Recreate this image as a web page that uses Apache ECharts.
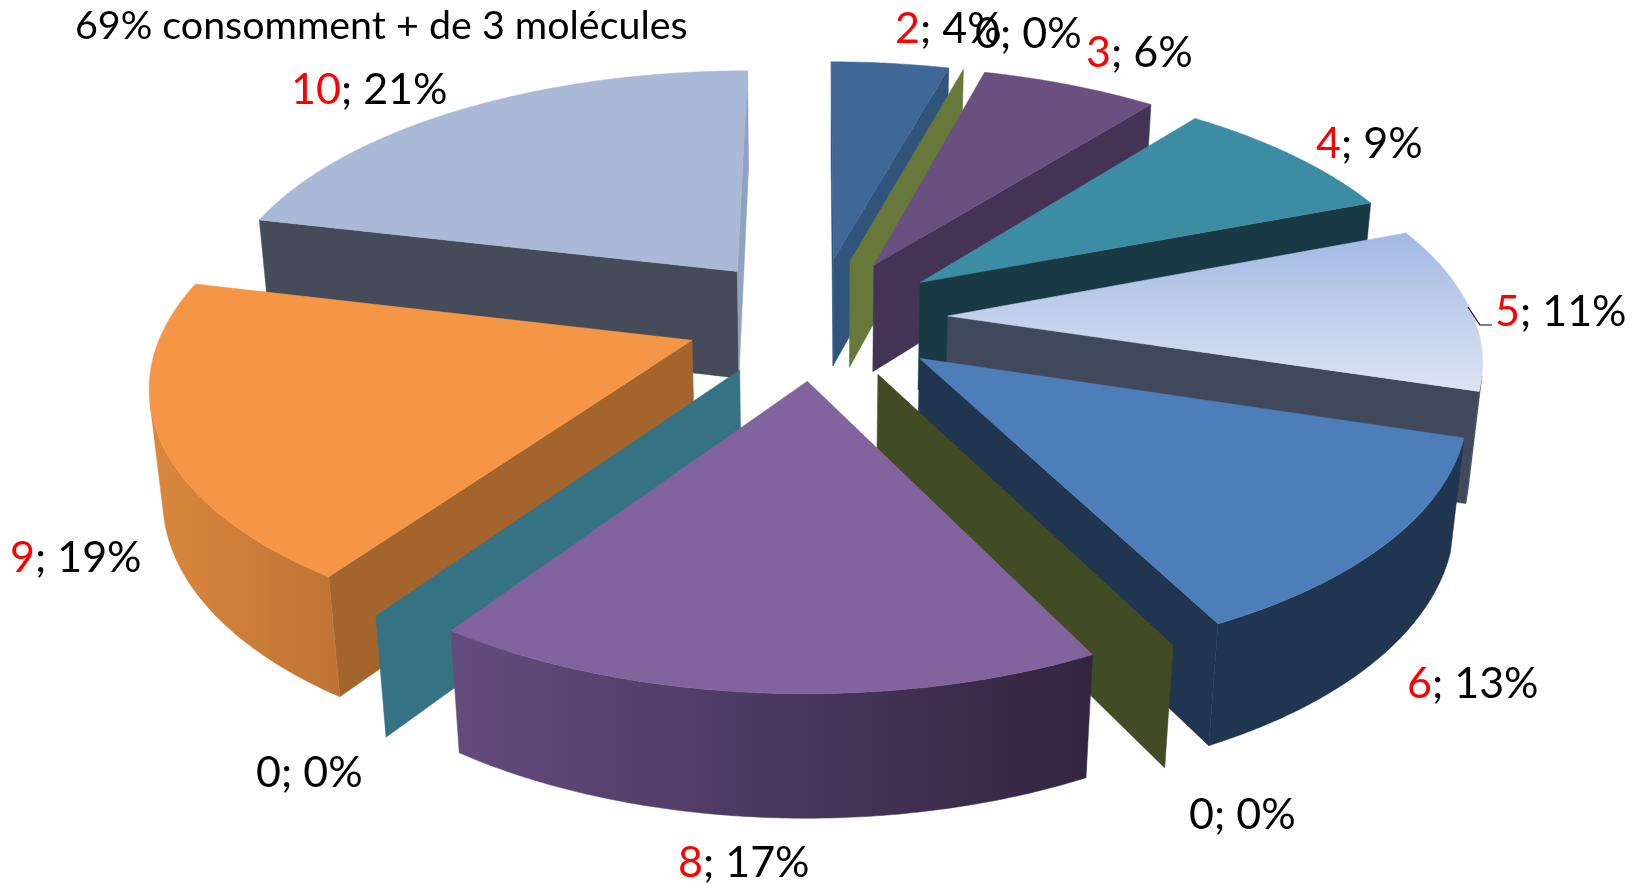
<!DOCTYPE html>
<html>
<head>
<meta charset="utf-8">
<title>69% consomment + de 3 molécules</title>
<script src="https://cdn.jsdelivr.net/npm/echarts@6/dist/echarts.min.js"></script>
<style>
  html, body { margin: 0; padding: 0; background: #fff; }
  #chart { width: 1644px; height: 884px; }
</style>
</head>
<body>
<div id="chart"></div>
<script>
  const titleText = '69% consomment + de 3 molécules';
  const values = [2, 0, 3, 4, 5, 6, 0, 8, 0, 9, 10];
  const topColors = ['#3F6897', '#66793A', '#695080', '#3C8CA3', ['#A3B9E3', '#DCE4F2'], '#4E7EBA', '#414B24', '#81649E', '#357284', '#F59646', '#A9B9D7'];
  const wallColors = ['#31547D', '#66793A', '#453355', '#193A44', '#3F495B', '#1F3550', '#414B24', '#4E3A62', '#357284', '#A3652C', '#454B58'];
  const endWallColors = ['#31547D', '#66793A', '#453355', '#193A44', '#3F495B', '#1F3550', '#414B24', '#4E3A62', '#357284', '#A3652C', '#8FA3BE'];
  const rimColors = ['#31547D', null, '#453355', '#193A44', '#3F495B', '#1F3550', null, ['#634C7E', '#33243F'], null, ['#DA873D', '#BE7436'], '#454B58'];
  // ordre de dessin : du fond vers l'avant
  const drawOrder = [0, 1, 2, 3, 10, 4, 9, 8, 5, 6, 7];
  // position (gauche, milieu) de chaque etiquette
  const labelPos = [[895, 29], [975, 34], [1086, 53], [1316, 144], [1495, 312], [1407, 684], [1189, 815], [678, 863], [256, 773], [10, 558], [291, 90]];
  const leader = [[1468, 307], [1480, 325], [1492, 325]];

  // projection perspective du camembert
  const view = { cx: 816.5, cy: 318, a: 526, b: 244, h: 111, p: 0.151, s: 0.02, explode: 0.25 };
  const total = values.reduce((a, b) => a + b, 0);
  const rad = Math.PI / 180;

  function project(u, v, low) {
    const w = 1 + view.p * v + (low ? view.s : 0);
    return [view.cx + view.a * u / w, view.cy - (view.b * v - (low ? view.h : 0)) / w];
  }
  function area(pts) {
    let sum = 0;
    pts.forEach((p, i) => {
      const q = pts[(i + 1) % pts.length];
      sum += p[0] * q[1] - q[0] * p[1];
    });
    return sum;
  }
  function fillOf(c, vertical) {
    if (!Array.isArray(c)) return c;
    return new echarts.graphic.LinearGradient(0, 0, vertical ? 0 : 1, vertical ? 1 : 0, [
      { offset: 0, color: c[0] },
      { offset: 1, color: c[1] }
    ]);
  }

  let acc = 0;
  const slices = values.map((val) => {
    const start = acc / total * 360;
    acc += val;
    return { start: start, end: acc / total * 360 };
  });

  function sliceShapes(i) {
    const s = slices[i];
    const mid = (s.start + s.end) / 2 * rad;
    const ox = view.explode * Math.sin(mid);
    const oy = view.explode * Math.cos(mid);
    const rim = (deg, low) => project(ox + Math.sin(deg * rad), oy + Math.cos(deg * rad), low);
    const apexT = project(ox, oy, false);
    const apexB = project(ox, oy, true);
    // trait fin de la meme couleur pour cacher les joints entre faces
    const poly = (points, fill) => ({
      type: 'polygon',
      shape: { points: points },
      style: { fill: fill, stroke: fill, lineWidth: 0.5 }
    });
    const out = [];

    const startFace = [apexT, rim(s.start, false), rim(s.start, true), apexB];
    const endFace = [apexT, rim(s.end, false), rim(s.end, true), apexB];
    if (values[i] === 0) {
      out.push(poly(endFace, topColors[i]));
      return out;
    }
    if (area(startFace) < 0) out.push(poly(startFace, wallColors[i]));
    if (area(endFace) > 0) out.push(poly(endFace, endWallColors[i]));

    // paroi exterieure : seulement la partie tournee vers nous
    const tops = [], lows = [];
    const steps = Math.ceil((s.end - s.start) * 2);
    for (let k = 0; k < steps; k++) {
      const d1 = s.start + (s.end - s.start) * k / steps;
      const d2 = s.start + (s.end - s.start) * (k + 1) / steps;
      if (area([rim(d1, false), rim(d2, false), rim(d2, true), rim(d1, true)]) < 0) {
        if (!tops.length) { tops.push(rim(d1, false)); lows.push(rim(d1, true)); }
        tops.push(rim(d2, false));
        lows.push(rim(d2, true));
      }
    }
    if (tops.length) out.push(poly(tops.concat(lows.reverse()), fillOf(rimColors[i], false)));

    const topPts = [apexT];
    for (let k = 0; k <= steps; k++) topPts.push(rim(s.start + (s.end - s.start) * k / steps, false));
    out.push(poly(topPts, fillOf(topColors[i], true)));
    return out;
  }

  const labelFont = 'Lato';
  const chart = echarts.init(document.getElementById('chart'), null, { renderer: 'canvas' });
  chart.setOption({
    animation: false,
    backgroundColor: '#fff',
    series: [
      {
        type: 'custom',
        coordinateSystem: 'none',
        silent: true,
        data: drawOrder.map(i => [i, values[i]]),
        renderItem: function (params, api) {
          return { type: 'group', children: sliceShapes(api.value(0)) };
        }
      },
      {
        type: 'custom',
        coordinateSystem: 'none',
        silent: true,
        z: 5,
        data: values.map((v, i) => [i, v]),
        renderItem: function (params, api) {
          const i = api.value(0);
          const pct = Math.round(values[i] / total * 100);
          const children = [];
          if (values[i] === 5) {
            children.push({ type: 'polyline', shape: { points: leader }, style: { stroke: '#000', lineWidth: 1.2, fill: null } });
          }
          children.push({
            type: 'text',
            style: {
              x: labelPos[i][0],
              y: labelPos[i][1],
              text: values[i] === 0 ? '{k|0; 0%}' : '{r|' + values[i] + '}{k|; ' + pct + '%}',
              verticalAlign: 'middle',
              rich: {
                r: { fill: '#FF0000', fontSize: 43, fontFamily: labelFont },
                k: { fill: '#000', fontSize: 43, fontFamily: labelFont }
              }
            }
          });
          return { type: 'group', children: children };
        }
      }
    ],
    graphic: [{
      type: 'text',
      left: 75,
      top: 7,
      style: { text: titleText, fill: '#000', fontSize: 39.4, fontFamily: labelFont }
    }]
  });
</script>
</body>
</html>
